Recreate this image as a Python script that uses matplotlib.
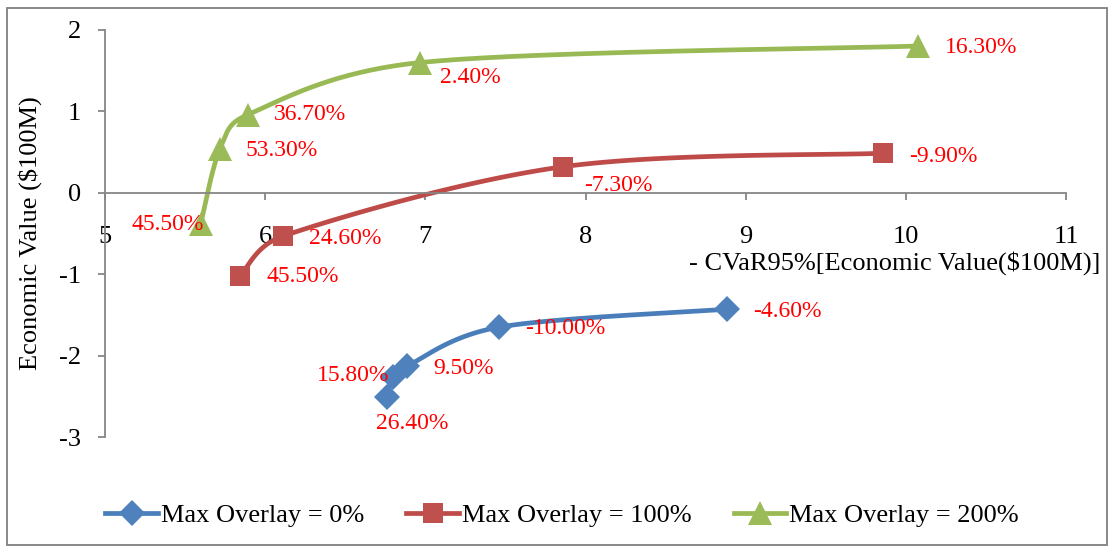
import numpy as np
import matplotlib
matplotlib.use("Agg")
import matplotlib.pyplot as plt
from matplotlib.patches import Rectangle
from matplotlib.lines import Line2D

plt.rcParams["font.family"] = ["Liberation Serif", "DejaVu Serif"]

# Efficient frontiers: -CVaR95% vs. economic value, one per overlay limit
series_names = ["Max Overlay = 0%", "Max Overlay = 100%", "Max Overlay = 200%"]

cvar_0 = [6.760, 6.798, 6.885, 7.459, 8.883]
ev_0 = [-2.51, -2.265, -2.13, -1.651, -1.43]
labels_0 = ["26.40%", "15.80%", "9.50%", "-10.00%", "-4.60%"]

cvar_100 = [5.843, 6.111, 7.859, 9.856]
ev_100 = [-1.024, -0.532, 0.32, 0.486]
labels_100 = ["45.50%", "24.60%", "-7.30%", "-9.90%"]

cvar_200 = [5.597, 5.718, 5.893, 6.966, 10.075]
ev_200 = [-0.385, 0.543, 0.961, 1.60, 1.803]
labels_200 = ["45.50%", "53.30%", "36.70%", "2.40%", "16.30%"]

x_ticks = [5, 6, 7, 8, 9, 10, 11]
y_ticks = [-3, -2, -1, 0, 1, 2]

W, H = 1109, 546
fig = plt.figure(figsize=(W / 100, H / 100), dpi=100)
ax = fig.add_axes([105 / W, 1 - 437 / H, (1066 - 105) / W, (437 - 30) / H])
ax.set_xlim(5, 11)
ax.set_ylim(-3, 2)

axis_grey = "#868686"
for side in ("top", "right"):
    ax.spines[side].set_visible(False)
ax.spines["bottom"].set_position(("data", 0))
for side in ("left", "bottom"):
    ax.spines[side].set_color(axis_grey)
    ax.spines[side].set_linewidth(1.3)
ax.set_xticks(x_ticks)
ax.set_yticks(y_ticks)
ax.set_xticklabels([str(v) for v in x_ticks])
ax.set_yticklabels([str(v) for v in y_ticks])
ax.tick_params(axis="x", direction="out", length=5, width=1.3, color=axis_grey,
               labelsize=19, pad=19)
ax.tick_params(axis="y", direction="out", length=5, width=1.3, color=axis_grey,
               labelsize=19, pad=12)


def smooth_curve(xs, ys, n=40):
    """Bezier smoothing through the points in screen space; control arms are
    capped at half the segment length so short segments do not overshoot."""
    pts = ax.transData.transform(np.column_stack([xs, ys]))
    P = np.vstack([pts[0], pts, pts[-1]])
    t = np.linspace(0, 1, n)[1:, None]
    out = [pts[0]]
    for i in range(1, len(P) - 2):
        p0, p1, p2, p3 = P[i - 1], P[i], P[i + 1], P[i + 2]
        d12 = np.linalg.norm(p2 - p1)
        d02 = np.linalg.norm(p2 - p0)
        d13 = np.linalg.norm(p3 - p1)
        f1 = min(1 / 6, d12 / (2 * d02)) if d02 > 0 else 0
        f2 = min(1 / 6, d12 / (2 * d13)) if d13 > 0 else 0
        c1 = p1 + f1 * (p2 - p0)
        c2 = p2 - f2 * (p3 - p1)
        seg = ((1 - t) ** 3) * p1 + 3 * ((1 - t) ** 2) * t * c1 \
            + 3 * (1 - t) * t ** 2 * c2 + t ** 3 * p2
        out.extend(seg)
    return ax.transData.inverted().transform(np.array(out))


styles = [
    dict(line="#4A7EBB", face="#4F81BD", marker="D", ms=13.5),
    dict(line="#BE4B48", face="#C0504D", marker="s", ms=15),
    dict(line="#98B954", face="#9BBB59", marker="^", ms=17),
]

# label placement (pixel offsets from each point, horizontal alignment)
offsets_0 = [((25, -26), "center"), ((-4, 2), "right"), ((26, -2), "left"),
             ((26, -1), "left"), ((26, -2), "left")]
offsets_100 = [((26, 0), "left"), ((26, -2), "left"), ((21, -19), "left"),
               ((26, -3), "left")]
offsets_200 = [((3, 0), "right"), ((26, -2), "left"), ((26, 0), "left"),
               ((20, -15), "left"), ((27, -1), "left")]

data = [(cvar_0, ev_0, labels_0, offsets_0),
        (cvar_100, ev_100, labels_100, offsets_100),
        (cvar_200, ev_200, labels_200, offsets_200)]

handles = []
for (xs, ys, labs, offs), st, name in zip(data, styles, series_names):
    curve = smooth_curve(xs, ys)
    ax.plot(curve[:, 0], curve[:, 1], color=st["line"], lw=3.4,
            solid_capstyle="round", solid_joinstyle="round", zorder=2)
    ax.plot(xs, ys, linestyle="none", marker=st["marker"], ms=st["ms"],
            markerfacecolor=st["face"], markeredgewidth=0, zorder=3)
    for x, y, lab, (off, ha) in zip(xs, ys, labs, offs):
        ax.annotate(lab, (x, y), xytext=off, textcoords="offset pixels",
                    ha=ha, va="center", fontsize=17, color="#FF0000", zorder=4)
    handles.append(Line2D([], [], color=st["line"], lw=3.4, marker=st["marker"],
                          ms=st["ms"], markerfacecolor=st["face"],
                          markeredgewidth=0))

fig.text(1100 / W, 1 - 263 / H, "- CVaR95%[Economic Value($100M)]",
         ha="right", va="center", fontsize=19)
fig.text(30 / W, 1 - 233 / H, "Economic Value ($100M)", rotation=90,
         ha="center", va="center", fontsize=19)

fig.legend(handles, series_names, loc="center",
           bbox_to_anchor=(562 / W, 1 - 515 / H), ncol=3, frameon=False,
           fontsize=19, handlelength=2.0, handletextpad=0.1,
           columnspacing=1.6)

fig.patches.append(Rectangle((7 / W, 1 / H), (1107 - 7) / W, (538 - 1) / H,
                             transform=fig.transFigure, fill=False,
                             edgecolor="#7F7F7F", lw=1.3))

fig.savefig("out.png", dpi=100)
